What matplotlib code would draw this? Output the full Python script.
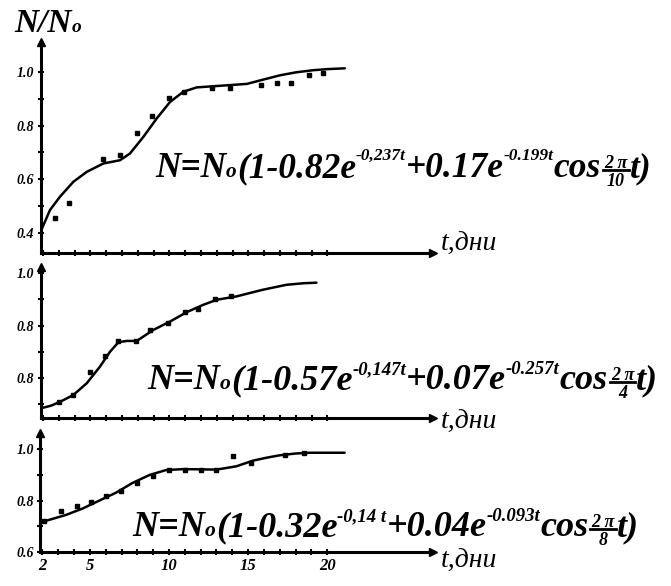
import matplotlib.pyplot as plt
from matplotlib.lines import Line2D
import numpy as np

plt.rcParams['font.family'] = ['Liberation Serif', 'DejaVu Serif']

# panel 1 (top)
t1_fit = [1.85, 2.44, 3.08, 3.92, 4.77, 5.82, 6.87, 7.5, 8.35, 9.2, 10.04, 10.88,
          11.73, 13.2, 14.9, 16.0, 17.0, 18.0, 19.1, 20.0, 21.1]
n1_fit = [0.406, 0.486, 0.536, 0.591, 0.628, 0.659, 0.671, 0.696, 0.758, 0.827, 0.888,
          0.926, 0.942, 0.948, 0.955, 0.972, 0.987, 0.998, 1.006, 1.010, 1.013]
t1_obs = [2.76, 3.66, 5.82, 6.87, 7.93, 8.92, 9.97, 10.9, 12.7, 13.8, 15.8, 16.8, 17.7, 18.8, 19.7]
n1_obs = [0.455, 0.513, 0.674, 0.690, 0.771, 0.835, 0.903, 0.925, 0.938, 0.938, 0.950,
          0.960, 0.960, 0.988, 0.996]

# panel 2 (middle)
t2_fit = [1.85, 2.5, 3.08, 3.92, 4.77, 5.6, 6.24, 6.77, 7.3, 7.93, 8.98, 10.04, 11.1,
          12.15, 13.0, 14.26, 15.9, 17.4, 18.5, 19.3]
n2_fit = [0.485, 0.495, 0.510, 0.536, 0.581, 0.644, 0.701, 0.737, 0.742, 0.742, 0.784,
          0.816, 0.852, 0.880, 0.899, 0.912, 0.937, 0.956, 0.962, 0.964]
t2_obs = [3.0, 3.9, 4.97, 5.9, 6.77, 7.9, 8.77, 9.9, 11.0, 11.8, 12.9, 13.9]
n2_obs = [0.508, 0.535, 0.625, 0.683, 0.743, 0.742, 0.784, 0.810, 0.852, 0.865, 0.900, 0.912]

# panel 3 (bottom)
t3_fit = [2.13, 3.5, 4.55, 5.6, 6.66, 7.7, 8.77, 9.8, 10.9, 12.0, 13.0, 14.26, 15.3,
          16.2, 17.0, 18.0, 18.9, 21.1]
n3_fit = [0.719, 0.744, 0.769, 0.800, 0.831, 0.869, 0.900, 0.919, 0.923, 0.922, 0.921,
          0.934, 0.956, 0.968, 0.977, 0.984, 0.987, 0.987]
t3_obs = [2.13, 3.18, 4.17, 5.08, 5.99, 6.98, 7.97, 8.98, 9.98, 11.0, 12.04, 13.0, 14.04,
          15.2, 17.3, 18.5]
n3_obs = [0.720, 0.758, 0.780, 0.795, 0.819, 0.837, 0.869, 0.896, 0.920, 0.919, 0.919,
          0.919, 0.975, 0.947, 0.977, 0.985]

y1_ticks = [1.0, 0.8, 0.6, 0.4]
y1_labels = ['1.0', '0.8', '0.6', '0.4']
y2_ticks = [1.0, 0.8, 0.6]
y2_labels = ['1.0', '0.8', '0.8']
y3_ticks = [1.0, 0.8, 0.6]
y3_labels = ['1.0', '0.8', '0.6']
x_ticks = [2, 5, 10, 15, 20]
x_labels = ['2', '5', '10', '15', '20']

# formula pieces: (main1, exp1, main2, exp2, numerator, denominator)
formulas = [
    ('(1-0.82e', '-0,237t', '+0.17e', '-0.199t', '2 π', '10'),
    ('(1-0.57e', '-0,147t', '+0.07e', '-0.257t', '2 π', '4'),
    ('(1-0.32e', '-0,14 t', '+0.04e', '-0.093t', '2 π', '8'),
]

W, H = 671, 586
fig = plt.figure(figsize=(W / 100, H / 100), dpi=100)
renderer = fig.canvas.get_renderer()


def box(l, t, r, b):
    return [l / W, 1 - b / H, (r - l) / W, (b - t) / H]


def put(x, y, s, size, style='italic', weight='bold', keep=True):
    # text at pixel position (x = left, y = baseline); returns its width in px
    txt = fig.text(x / W, 1 - y / H, s, fontsize=size, fontstyle=style,
                   fontweight=weight, ha='left', va='baseline')
    w = txt.get_window_extent(renderer).width
    if not keep:
        txt.remove()
    return w


def formula(x, y, parts, size, sub, raise_px, fsize):
    m1, e1, m2, e2, num, den = parts
    x += put(x, y, 'N=N', size)
    x += put(x, y, 'o', size * 0.6)
    x += put(x, y, m1, size)
    x += put(x, y - raise_px, e1, sub)
    x += put(x, y, m2, size)
    x += put(x, y - raise_px, e2, sub)
    x += put(x, y, 'cos', size) + 2
    bar_y = y - 7
    wn = put(x, y, num, fsize, keep=False)
    wd = put(x, y, den, fsize, keep=False)
    w = max(wn, wd) + 2
    put(x + (w - wn) / 2, bar_y - 2, num, fsize)
    put(x + (w - wd) / 2, bar_y + fsize * 1.25, den, fsize)
    fig.add_artist(Line2D([x / W, (x + w) / W], [1 - bar_y / H] * 2, color='black', lw=2))
    x += w + 1
    put(x, y, 't)', size)


panels = [
    (box(40.7, 41.7, 433, 252.7), (0.327, 1.112), t1_fit, n1_fit, t1_obs, n1_obs, y1_ticks, y1_labels),
    (box(40.7, 266.7, 433, 418.3), (0.447, 1.025), t2_fit, n2_fit, t2_obs, n2_obs, y2_ticks, y2_labels),
    (box(40.0, 433.3, 433, 551.7), (0.618, 1.063), t3_fit, n3_fit, t3_obs, n3_obs, y3_ticks, y3_labels),
]

for i, (rect, ylim, tf, nf, to, no, yt, yl) in enumerate(panels):
    ax = fig.add_axes(rect)
    ax.plot(tf, nf, color='black', lw=1.8, solid_capstyle='round')
    ax.plot(to, no, 's', color='black', ms=2.5)
    ax.set_xlim(1.85, 26.68)
    ax.set_ylim(*ylim)
    for s in ['top', 'right']:
        ax.spines[s].set_visible(False)
    for s in ['left', 'bottom']:
        ax.spines[s].set_linewidth(2.2)
    ax.plot(1, 0, '>k', transform=ax.transAxes, clip_on=False, ms=6)
    ax.plot(0, 1, '^k', transform=ax.transAxes, clip_on=False, ms=6)
    ax.set_yticks(yt)
    ax.set_yticklabels(yl, fontsize=10, fontweight='bold', fontstyle='italic')
    ax.set_yticks(np.arange(round(ylim[0] + 0.05, 1), ylim[1], 0.1), minor=True)
    ax.set_xticks(range(2, 21), minor=True)
    if i == 2:
        ax.set_xticks(x_ticks)
        ax.set_xticklabels(x_labels, fontsize=12, fontweight='bold', fontstyle='italic')
    else:
        ax.set_xticks([])
    ax.tick_params(which='both', direction='inout', length=5, width=1.5, pad=2)

# y-axis title N/No
xx = 14
xx += put(xx, 32, 'N/N', 24)
put(xx, 32, 'o', 14)

formula(155, 177, formulas[0], 25.5, 12.5, 17, 13)
formula(147, 389, formulas[1], 26, 13.5, 15, 13)
formula(132, 536, formulas[2], 26, 13.5, 15, 13)

for y in [251, 429, 568]:
    put(441, y, 't,дни', 20, weight='normal')

fig.savefig('out.png', dpi=100, facecolor='white')
